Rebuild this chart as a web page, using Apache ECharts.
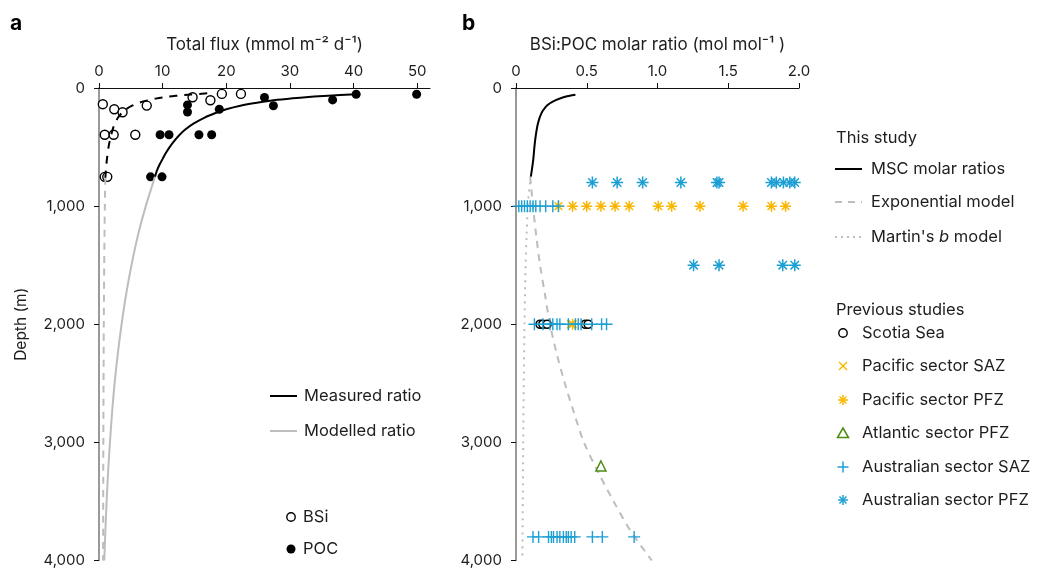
<!DOCTYPE html>
<html><head><meta charset="utf-8">
<script src="https://cdn.jsdelivr.net/npm/echarts@6/dist/echarts.min.js"></script>
<style>html,body{margin:0;padding:0;background:#fff}#c{width:1038px;height:568px}</style>
</head><body><div id="c"></div>
<script>
// ---------- tick labels ----------
const fluxTicks = [0, 10, 20, 30, 40, 50];
const depthTicks = [0, 1000, 2000, 3000, 4000];
const ratioTicks = [0, 0.5, 1.0, 1.5, 2.0];

// ---------- panel a : [flux, depth] ----------
const bsiPoints = [[0.6,137],[2.4,180],[3.7,205],[7.5,149],[14.7,78],[17.5,104],[19.3,50],[22.3,50],
  [0.9,396],[2.3,396],[5.7,396],[0.9,752],[1.3,752]];
const pocPoints = [[49.9,53],[40.4,53],[36.7,101],[27.4,150],[26.0,80],[18.9,180],[13.9,143],[13.9,203],
  [9.6,396],[11.0,396],[15.7,396],[17.7,396],[8.1,752],[9.9,752]];
const pocMeasured = [[40.4,53],[36.0,65],[31.6,82],[28.0,100],[24.8,125],[22.2,150],[20.0,180],[18.4,210],
  [16.6,250],[14.9,300],[13.6,350],[12.6,400],[11.8,450],[11.1,500],[10.5,550],[10.0,600],[9.5,650],[9.1,700],[8.8,750]];
const pocModelled = [[8.8,750],[7.35,1000],[6.1,1250],[5.1,1500],[4.25,1750],[3.55,2000],[2.95,2250],[2.45,2500],
  [2.05,2750],[1.72,3000],[1.43,3250],[1.2,3500],[1.0,3750],[0.83,4000]];
const bsiMeasured = [[17.0,45],[14.5,55],[12.4,65],[10.6,75],[8.9,90],[7.6,105],[6.3,125],[5.2,150],[4.4,175],
  [3.7,205],[3.0,250],[2.5,300],[2.15,350],[1.9,400],[1.68,450],[1.5,500],[1.25,600],[1.08,700],[1.0,760]];
const bsiModelled = [[1.0,760],[0.92,1000],[0.82,1500],[0.75,2000],[0.71,2500],[0.68,3000],[0.66,3500],[0.65,4000]];

// ---------- panel b : [ratio, depth] ----------
const mscRatio = [[0.42,58],[0.38,65],[0.33,80],[0.285,100],[0.24,129],[0.21,160],[0.18,213],[0.155,300],
  [0.14,400],[0.13,500],[0.122,606],[0.105,750]];
const expModel = [[0.100,750],[0.120,1000],[0.143,1250],[0.170,1500],[0.205,1750],[0.240,2000],[0.288,2250],
  [0.345,2500],[0.41,2750],[0.48,3000],[0.58,3250],[0.69,3500],[0.81,3750],[0.96,4000]];
const martinModel = [[0.10,800],[0.09,900],[0.083,1000],[0.075,1250],[0.068,1500],[0.06,2000],[0.055,2500],
  [0.051,3000],[0.048,3500],[0.045,4000]];
const scotiaSea = [[0.17,2000],[0.19,2000],[0.22,2000],[0.49,2000],[0.51,2000]];
const pacificSAZ = [[0.39,2000]];
const pacificPFZ = [[0.30,1000],[0.40,1000],[0.50,1000],[0.60,1000],[0.70,1000],[0.80,1000],[1.005,1000],
  [1.10,1000],[1.30,1000],[1.605,1000],[1.805,1000],[1.905,1000],[0.40,2000]];
const atlanticPFZ = [[0.60,3200]];
const australianSAZ = [[0.02,1000],[0.04,1000],[0.06,1000],[0.08,1000],[0.10,1000],[0.12,1000],[0.14,1000],
  [0.17,1000],[0.21,1000],[0.26,1000],[0.30,1000],
  [0.13,2000],[0.19,2000],[0.24,2000],[0.26,2000],[0.29,2000],[0.31,2000],[0.37,2000],[0.42,2000],[0.44,2000],
  [0.46,2000],[0.535,2000],[0.605,2000],[0.64,2000],
  [0.12,3800],[0.16,3800],[0.23,3800],[0.25,3800],[0.265,3800],[0.29,3800],[0.31,3800],[0.335,3800],[0.355,3800],
  [0.37,3800],[0.39,3800],[0.415,3800],[0.54,3800],[0.61,3800],[0.835,3800]];
const australianPFZ = [[0.54,800],[0.715,800],[0.895,800],[1.165,800],[1.42,800],[1.435,800],[1.805,800],
  [1.84,800],[1.89,800],[1.935,800],[1.97,800],
  [1.255,1500],[1.435,1500],[1.885,1500],[1.97,1500]];

const FONT = 'Inter';
const TXT = '#1e1e1e';
const LFS = 16.5;
const BLUE = '#1c9fd3', ORANGE = '#f9b600', GREEN = '#4a8c12', GREY = '#bdbdbd';
const PLUS = 'path://M5,0L5,10M0,5L10,5';
const CROSS = 'path://M0,0L10,10M0,10L10,0';
const STAR = 'path://M5,0L5,10M0,5L10,5M1.5,1.5L8.5,8.5M1.5,8.5L8.5,1.5';

const chart = echarts.init(document.getElementById('c'), null, {renderer: 'canvas'});

function xAxisCfg(grid, max, ticks, name, fmt) {
  return {
    gridIndex: grid, type: 'value', position: 'top', min: 0, max: max,
    axisLine: {show: true, onZero: false, lineStyle: {color: '#111', width: 1.2}},
    axisTick: {show: true, length: 5, customValues: ticks, lineStyle: {color: '#111'}},
    axisLabel: {customValues: ticks, margin: 9, fontSize: 15, fontFamily: FONT, color: TXT, formatter: fmt},
    splitLine: {show: false},
    name: name, nameLocation: 'middle', nameGap: 35,
    nameTextStyle: {fontSize: 17, fontFamily: FONT, color: TXT}
  };
}
function yAxisCfg(grid, name) {
  return {
    gridIndex: grid, type: 'value', inverse: true, min: 0, max: 4000, interval: 1000,
    axisLine: {show: true, onZero: false, lineStyle: {color: '#777', width: 1.5}},
    axisTick: {show: true, length: 5, lineStyle: {color: '#111'}},
    axisLabel: {margin: 14, fontSize: 15, fontFamily: FONT, color: TXT,
      formatter: v => v.toLocaleString('en-US')},
    splitLine: {show: false},
    name: name, nameLocation: 'middle', nameGap: 70, nameRotate: 90,
    nameTextStyle: {fontSize: 15.5, fontFamily: FONT, color: TXT}
  };
}
function lineSeries(data, xi, color, type, width, z) {
  return {type: 'line', xAxisIndex: xi, yAxisIndex: xi, data: data, showSymbol: false, symbol: 'none',
    smooth: 0.3, clip: false, silent: true, z: z || 3,
    lineStyle: {color: color, type: type, width: width || 2}};
}
function scatter(data, xi, symbol, size, fill, stroke, bw, z) {
  return {type: 'scatter', xAxisIndex: xi, yAxisIndex: xi, data: data, symbol: symbol, symbolSize: size,
    silent: true, z: z || 2, clip: false,
    itemStyle: {color: fill, borderColor: stroke, borderWidth: bw, opacity: 1}};
}

// legend graphics
const G = [];
function gText(x, y, text, extra) {
  G.push({type: 'text', x: x, y: y, style: Object.assign({text: text, fill: TXT, fontSize: LFS, fontFamily: FONT,
    verticalAlign: 'middle', align: 'left'}, extra || {})});
}
function gLine(x1, x2, y, color, dash) {
  G.push({type: 'line', shape: {x1: x1, y1: y, x2: x2, y2: y}, style: {stroke: color, lineWidth: 2, lineDash: dash || null}});
}
function gSeg(x1, y1, x2, y2, color) {
  G.push({type: 'line', shape: {x1: x1, y1: y1, x2: x2, y2: y2}, style: {stroke: color, lineWidth: 1.5}});
}
function gPlus(cx, cy, h, color) { gSeg(cx - h, cy, cx + h, cy, color); gSeg(cx, cy - h, cx, cy + h, color); }
function gCross(cx, cy, h, color) { gSeg(cx - h, cy - h, cx + h, cy + h, color); gSeg(cx - h, cy + h, cx + h, cy - h, color); }
function gStar(cx, cy, h, color) { gPlus(cx, cy, h, color); gCross(cx, cy, h * 0.7, color); }

// panel letters
gText(10, 24, 'a', {fontSize: 21, fontWeight: 'bold', fill: '#000'});
gText(462, 24, 'b', {fontSize: 21, fontWeight: 'bold', fill: '#000'});
// panel a legend
gLine(270, 297, 396, '#000');
gText(304, 396, 'Measured ratio');
gLine(270, 297, 431, GREY);
gText(304, 431, 'Modelled ratio');
G.push({type: 'circle', shape: {cx: 291, cy: 517, r: 4.2}, style: {fill: '#fff', stroke: '#000', lineWidth: 1.4}});
gText(303, 517, 'BSi');
G.push({type: 'circle', shape: {cx: 291, cy: 549, r: 4.5}, style: {fill: '#000'}});
gText(303, 549, 'POC');
// panel b legend
gText(836, 138, 'This study');
gLine(835, 862, 169, '#000');
gText(871, 169, 'MSC molar ratios');
gLine(835, 862, 202, GREY, [7, 6]);
gText(871, 202, 'Exponential model');
gLine(835, 862, 237, GREY, [2, 4]);
G.push({type: 'text', x: 871, y: 237, style: {text: "Martin's {i|b} model", fill: TXT, fontSize: LFS, fontFamily: FONT,
  verticalAlign: 'middle', rich: {i: {fontStyle: 'italic', fontSize: LFS, fontFamily: FONT, fill: TXT}}}});
gText(836, 310, 'Previous studies');
G.push({type: 'circle', shape: {cx: 843, cy: 333, r: 4.2}, style: {fill: '#fff', stroke: '#000', lineWidth: 1.4}});
gText(862, 333, 'Scotia Sea');
gCross(843, 366, 4, ORANGE);
gText(862, 366, 'Pacific sector SAZ');
gStar(843, 400, 5, ORANGE);
gText(862, 400, 'Pacific sector PFZ');
G.push({type: 'polygon', shape: {points: [[843, 428], [848.5, 437.5], [837.5, 437.5]]}, style: {fill: '#fff', stroke: GREEN, lineWidth: 1.5}});
gText(862, 433, 'Atlantic sector PFZ');
gPlus(843, 467, 5.5, BLUE);
gText(862, 467, 'Australian sector SAZ');
gStar(843, 500, 5, BLUE);
gText(862, 500, 'Australian sector PFZ');

const option = {
  animation: false,
  backgroundColor: '#fff',
  textStyle: {fontFamily: FONT},
  grid: [
    {left: 99, top: 88, width: 331, height: 475, containLabel: false},
    {left: 516, top: 88, width: 283, height: 475, containLabel: false}
  ],
  xAxis: [
    xAxisCfg(0, 52, fluxTicks, 'Total flux (mmol m⁻² d⁻¹)', v => String(v)),
    xAxisCfg(1, 2.0, ratioTicks, 'BSi:POC molar ratio (mol mol⁻¹ )', v => v === 0 ? '0' : v.toFixed(1))
  ],
  yAxis: [yAxisCfg(0, 'Depth (m)'), yAxisCfg(1, '')],
  series: [
    // panel a
    scatter(bsiPoints, 0, 'circle', 9, '#fff', '#000', 1.4, 2),
    scatter(pocPoints, 0, 'circle', 9, '#000', '#000', 0, 2),
    lineSeries(pocModelled, 0, GREY, 'solid', 2, 3),
    lineSeries(bsiModelled, 0, GREY, [7, 6], 2, 3),
    lineSeries(pocMeasured, 0, '#000', 'solid', 2, 4),
    lineSeries(bsiMeasured, 0, '#000', [8, 7], 2, 4),
    // panel b
    lineSeries(expModel, 1, GREY, [7, 6], 2, 1),
    lineSeries(martinModel, 1, GREY, [2, 5], 2, 1),
    lineSeries(mscRatio, 1, '#000', 'solid', 2, 4),
    scatter(scotiaSea, 1, 'circle', 8, '#fff', '#000', 1.6, 2),
    scatter(pacificSAZ, 1, CROSS, 8, 'transparent', ORANGE, 1.5, 2),
    scatter(pacificPFZ, 1, STAR, 11, 'transparent', ORANGE, 1.5, 2),
    scatter(atlanticPFZ, 1, 'triangle', 10, '#fff', GREEN, 1.5, 2),
    scatter(australianSAZ, 1, PLUS, 12, 'transparent', BLUE, 1.4, 2),
    scatter(australianPFZ, 1, STAR, 12, 'transparent', BLUE, 1.5, 2)
  ],
  graphic: {elements: G}
};
chart.setOption(option);
</script>
</body></html>
